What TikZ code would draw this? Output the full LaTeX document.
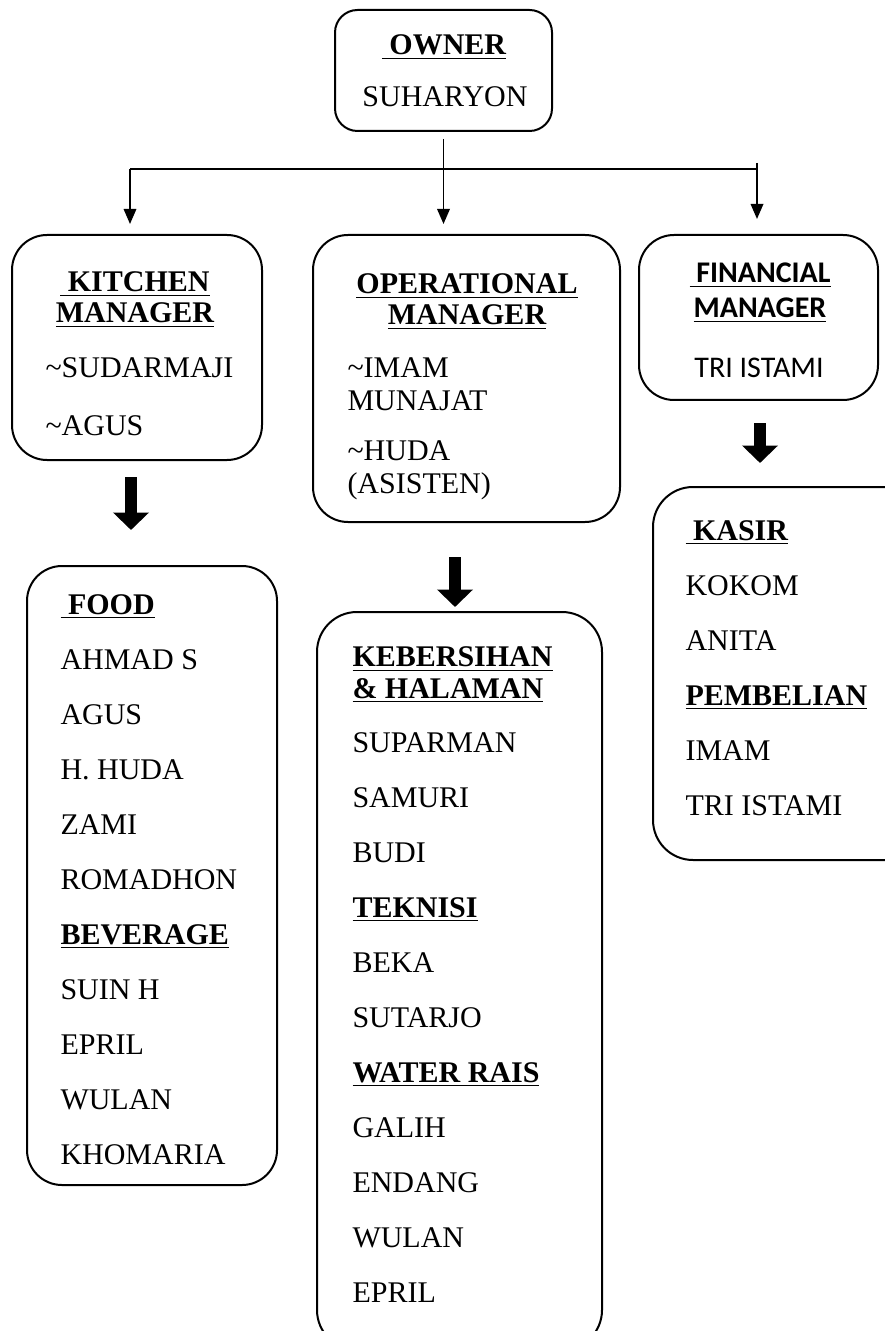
\documentclass[tikz,border=0pt]{standalone}
\usepackage{fontspec}
\setmainfont{Liberation Serif}
\newfontfamily\calibri{Carlito}
\usetikzlibrary{arrows.meta, positioning, fit}
\newcommand{\ul}[1]{\underline{#1}}
\tikzset{
    box/.style = {rectangle, draw, line width=0.8pt, rounded corners=14pt, inner sep=0pt},
    head/.style = {anchor=base, align=center, inner sep=0pt, font=\fontsize{12}{12.6}\selectfont\bfseries},
    names/.style = {anchor=base west, align=left, inner sep=0pt, font=\fontsize{12}{22}\selectfont},
    arrow/.style = {line width=0.7pt, -{Triangle[length=6pt, width=5pt]}},
    line/.style = {line width=0.7pt, -},
    fatarrow/.style = {line width=5pt, -{Triangle[length=7pt, width=14pt]}}
}

\begin{document}
\begin{tikzpicture}[x=0.4pt, y=-0.4pt]
\useasboundingbox (0,0) rectangle (885,1331);
\clip (0,0) rectangle (885,1331);

% top (multi-line texts sit on the baseline of their last line)
\node (owner) [box, rounded corners=9pt, fit={(335,10) (552,131)}] {};
\node (ownerhead) [head] at (444,55) {\ul{\ OWNER}};
\node (ownername) [names, anchor=base] at (445,107) {SUHARYON};

% managers
\node (kitchen) [box, fit={(12,235) (262,460)}] {};
\node (kitchenhead) [head] at (135,323) {\ul{\ KITCHEN}\\\ul{MANAGER}};
\node (kitchennames) [names, font=\fontsize{12}{23}\selectfont] at (45,435) {\textasciitilde SUDARMAJI\\\textasciitilde AGUS};

\node (operational) [box, fit={(313,235) (620,522)}] {};
\node (operationalhead) [head] at (467,325) {\ul{OPERATIONAL}\\\ul{MANAGER}};
\node (imam) [names, font=\fontsize{12}{13}\selectfont] at (347,410) {\textasciitilde IMAM\\MUNAJAT};
\node (huda) [names, font=\fontsize{12}{13}\selectfont] at (347,493) {\textasciitilde HUDA\\(ASISTEN)};

\node (financial) [box, fit={(639,235) (878,400)}] {};
\node (financialhead) [head, font=\fontsize{12}{14}\selectfont\calibri\bfseries] at (760,318) {\ul{\ FINANCIAL}\\\ul{MANAGER}};
\node (financialname) [names, anchor=base, font=\fontsize{12}{14}\selectfont\calibri] at (759,378) {TRI ISTAMI};

% staff
\node (food) [box, fit={(27,566) (277,1185)}] {};
\node (foodnames) [names] at (60,1164) {\textbf{\ul{\ FOOD}}\\AHMAD S\\AGUS\\H. HUDA\\ZAMI\\ROMADHON\\\textbf{\ul{BEVERAGE}}\\SUIN H\\EPRIL\\WULAN\\KHOMARIA};

\node (cleaning) [box, rounded corners=16pt, fit={(317,612) (602,1350)}] {};
\node (cleaninghead) [names, font=\fontsize{12}{12.6}\selectfont\bfseries] at (352,698) {\ul{KEBERSIHAN}\\\ul{\&\ HALAMAN}};
\node (cleaningnames) [names] at (352,1302) {SUPARMAN\\SAMURI\\BUDI\\\textbf{\ul{TEKNISI}}\\BEKA\\SUTARJO\\\textbf{\ul{WATER RAIS}}\\GALIH\\ENDANG\\WULAN\\EPRIL};

\node (cashier) [box, rounded corners=16pt, fit={(653,487) (925,860)}] {};
\node (cashiernames) [names] at (685,815) {\textbf{\ul{\ KASIR}}\\KOKOM\\ANITA\\\textbf{\ul{PEMBELIAN}}\\IMAM\\TRI ISTAMI};

% connectors
\coordinate (hleft) at (130,169);
\coordinate (hright) at (757,169);
\coordinate (htop) at (757,163);
\draw [line] (hleft) -- (hright);
\draw [arrow, shorten <=2.8pt, shorten >=4pt] (owner.south) -- (owner.south |- operational.north);
\draw [arrow, shorten >=4pt] (hleft) -- (hleft |- kitchen.north);
\draw [arrow, shorten >=6pt] (htop) -- (htop |- financial.north);

\coordinate (kfa) at (131,477);
\coordinate (kfb) at (131,530);
\coordinate (ofa) at (455,557);
\coordinate (ofb) at (455,607);
\coordinate (ffa) at (760,423);
\coordinate (ffb) at (760,463);
\draw [fatarrow] (kfa) -- (kfb);
\draw [fatarrow] (ofa) -- (ofb);
\draw [fatarrow] (ffa) -- (ffb);
\end{tikzpicture}
\end{document}
